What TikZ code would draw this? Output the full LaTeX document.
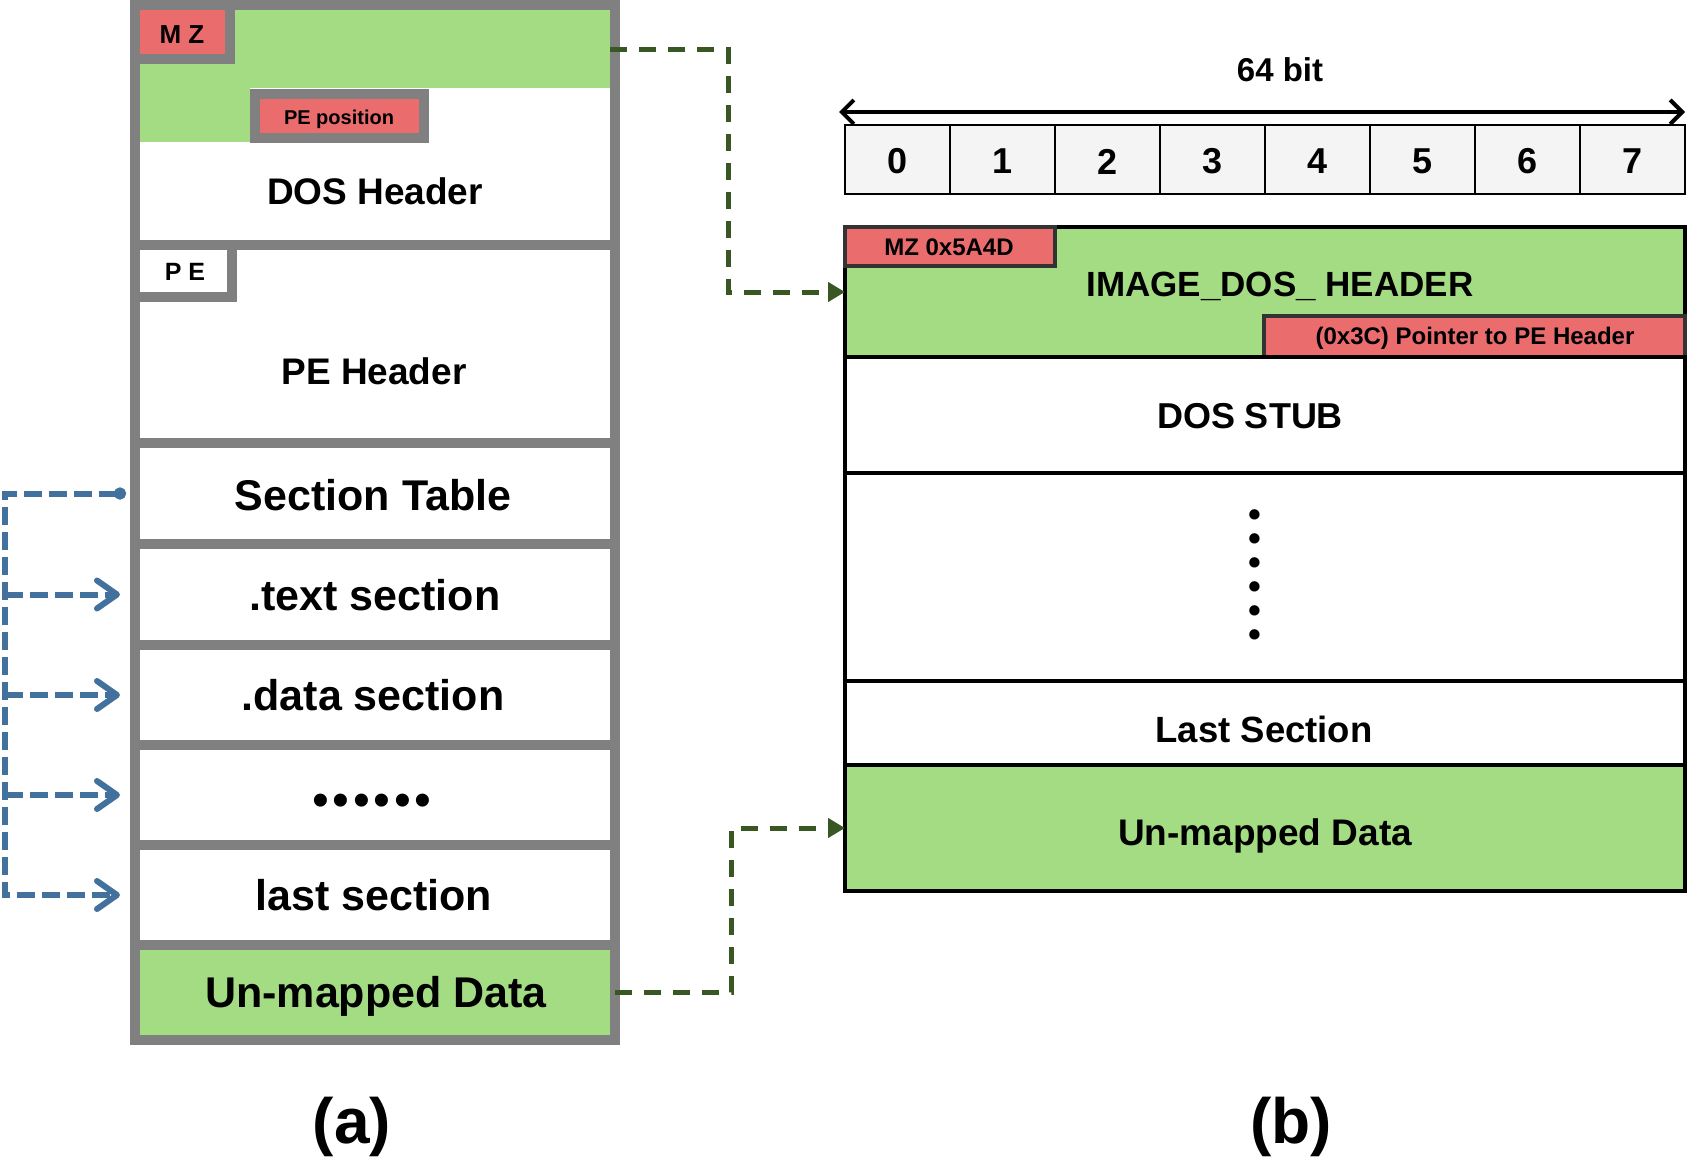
\documentclass[tikz,border=0pt]{standalone}
\usepackage{fontspec}
\setmainfont{Liberation Sans}
\usetikzlibrary{arrows.meta}
\definecolor{lgreen}{RGB}{164,220,132}
\definecolor{lred}{RGB}{234,108,108}
\definecolor{lgray}{RGB}{128,128,128}
\definecolor{dgreen}{RGB}{56,87,35}
\definecolor{sblue}{RGB}{65,113,156}
\definecolor{dgray}{RGB}{51,51,51}
\definecolor{cellgray}{RGB}{244,244,244}
\newcommand{\pxsize}[1]{\fontsize{#1}{#1}\selectfont}
\newcommand{\mybox}[6]{\node[#2, minimum width={(#5-(#3))*1pt}, minimum height={(#6-(#4))*1pt}] (#1) at ({(#3+#5)/2},{(#4+#6)/2}) {};}
\tikzset{
  every node/.style={inner sep=0pt, outer sep=0pt},
  lsec/.style={rectangle, draw=lgray, line width=10pt, fill=white},
  rsec/.style={rectangle, draw=black, line width=4pt},
  redb/.style={rectangle, fill=lred, draw=dgray, line width=3.5pt},
  cell/.style={rectangle, fill=cellgray, draw=black, line width=1.5pt},
  gfill/.style={rectangle, fill=lgreen},
  lbl/.style={anchor=base, font={\bfseries\pxsize{#1}}},
  bline/.style={draw=sblue, line width=6pt, dash pattern=on 18pt off 7pt},
  gline/.style={draw=dgreen, line width=5pt, dash pattern=on 17pt off 12pt},
  barb/.tip={Straight Barb[length=20pt,width=28pt,round]}
}
\begin{document}
\begin{tikzpicture}[x=1pt,y=-1pt]
\fill[white] (0,0) rectangle (1689,1159);
\useasboundingbox (0,0) rectangle (1689,1159);

% ---------- left column ----------
\mybox{dos}{lsec}{135}{5}{615}{245}
\mybox{mzband}{gfill}{140}{10}{610}{88}
\mybox{gstrip}{gfill}{140}{87}{250}{142}
\mybox{pe}{lsec}{135}{245}{615}{443}
\mybox{st}{lsec}{135}{443}{615}{544}
\mybox{tx}{lsec}{135}{544}{615}{645}
\mybox{da}{lsec}{135}{645}{615}{745}
\mybox{dt}{lsec}{135}{745}{615}{845}
\mybox{ls}{lsec}{135}{845}{615}{945}
\mybox{lum}{lsec,fill=lgreen}{135}{945}{615}{1040}
\mybox{mzl}{lsec,fill=lred}{135}{5}{230}{59}
\mybox{pepos}{lsec,fill=lred}{255}{94}{424}{138}
\mybox{pebox}{lsec}{135}{245}{232}{297}

\node[lbl=26] (tmz) at (182,43) {M Z};
\node[lbl=20] (tpepos) at (339,124) {PE position};
\node[lbl=37] (tdos) at (375,204) {DOS Header};
\node[lbl=25] (tpe) at (185,280) {P E};
\node[lbl=37] (tpeh) at (374,384) {PE Header};
\node[lbl=43] (tst) at (373,510) {Section Table};
\node[lbl=43] (ttx) at (375,610) {.text section};
\node[lbl=43] (tda) at (373,710) {.data section};
\node[font=\pxsize{48}] (thd) at (372,805) {\makebox[20.4pt]{•}\makebox[20.4pt]{•}\makebox[20.4pt]{•}\makebox[20.4pt]{•}\makebox[20.4pt]{•}\makebox[20.4pt]{•}};
\node[lbl=43] (tls) at (374,910) {last section};
\node[lbl=43] (tlum) at (376,1007) {Un-mapped Data};

% ---------- right: bit row ----------
\foreach \i in {0,...,7}{
  \mybox{b\i}{cell}{845+105*\i}{125}{950+105*\i}{194}
  \node[font={\bfseries\pxsize{36}}] (d\i) at ([yshift=-2pt]b\i.center) {\i};
}
\draw[line width=4pt, {Straight Barb[length=12pt,width=24pt]}-{Straight Barb[length=12pt,width=24pt]}]
  ([xshift=-6pt,yshift=13pt]b0.north west) -- ([xshift=0pt,yshift=13pt]b7.north east);
\node[lbl=33] (t64) at (1280,81) {64 bit};

% ---------- right: structure ----------
\mybox{idh}{rsec,fill=lgreen}{845}{227}{1685}{357}
\mybox{mzr}{redb}{845}{227}{1055}{266}
\mybox{ptr}{redb}{1264}{316}{1685}{357}
\mybox{stub}{rsec,fill=white}{845}{357}{1685}{473}
\mybox{rdots}{rsec,fill=white}{845}{473}{1685}{681}
\mybox{lsr}{rsec,fill=white}{845}{681}{1685}{765}
\mybox{rum}{rsec,fill=lgreen}{845}{765}{1685}{891}

\node[lbl=24] (tmzr) at (949,255) {MZ 0x5A4D};
\node[lbl=35] (tidh) at (1280,296) {IMAGE\textunderscore DOS\textunderscore\ HEADER};
\node[lbl=24] (tptr) at (1475,344) {(0x3C) Pointer to PE Header};
\node[lbl=36] (tstub) at (1250,428) {DOS STUB};
\node[rotate=90, font=\pxsize{38}] (tvd) at (1259,575) {\makebox[24pt]{•}\makebox[24pt]{•}\makebox[24pt]{•}\makebox[24pt]{•}\makebox[24pt]{•}\makebox[24pt]{•}};
\node[lbl=36.5] (tlsr) at (1264,742) {Last Section};
\node[lbl=37] (trum) at (1265,845) {Un-mapped Data};

% ---------- captions ----------
\node[lbl=64] (capa) at (352,1143) {(a)};
\node[lbl=64] (capb) at (1291,1143) {(b)};

% ---------- blue connectors ----------
\coordinate (bus) at (5,0);
\draw[bline, {Circle[length=12pt]}-barb] ([xshift=-9pt]st.west) -- (bus |- st.west) |- ([xshift=-15pt]ls.west);
\foreach \n in {tx,da,dt}{
  \draw[bline, -barb] (bus |- \n.west) -- ([xshift=-15pt]\n.west);
}

% ---------- green connectors ----------
\coordinate (gx1) at (728,0);
\coordinate (gx2) at (731,0);
\draw[gline, -{Triangle[length=17pt,width=19pt]}] (mzband.east) -- (gx1 |- mzband.east) |- (idh.west);
\draw[gline, -{Triangle[length=17pt,width=19pt]}] (lum.east) -- (gx2 |- lum.east) |- (rum.west);
\end{tikzpicture}
\end{document}
